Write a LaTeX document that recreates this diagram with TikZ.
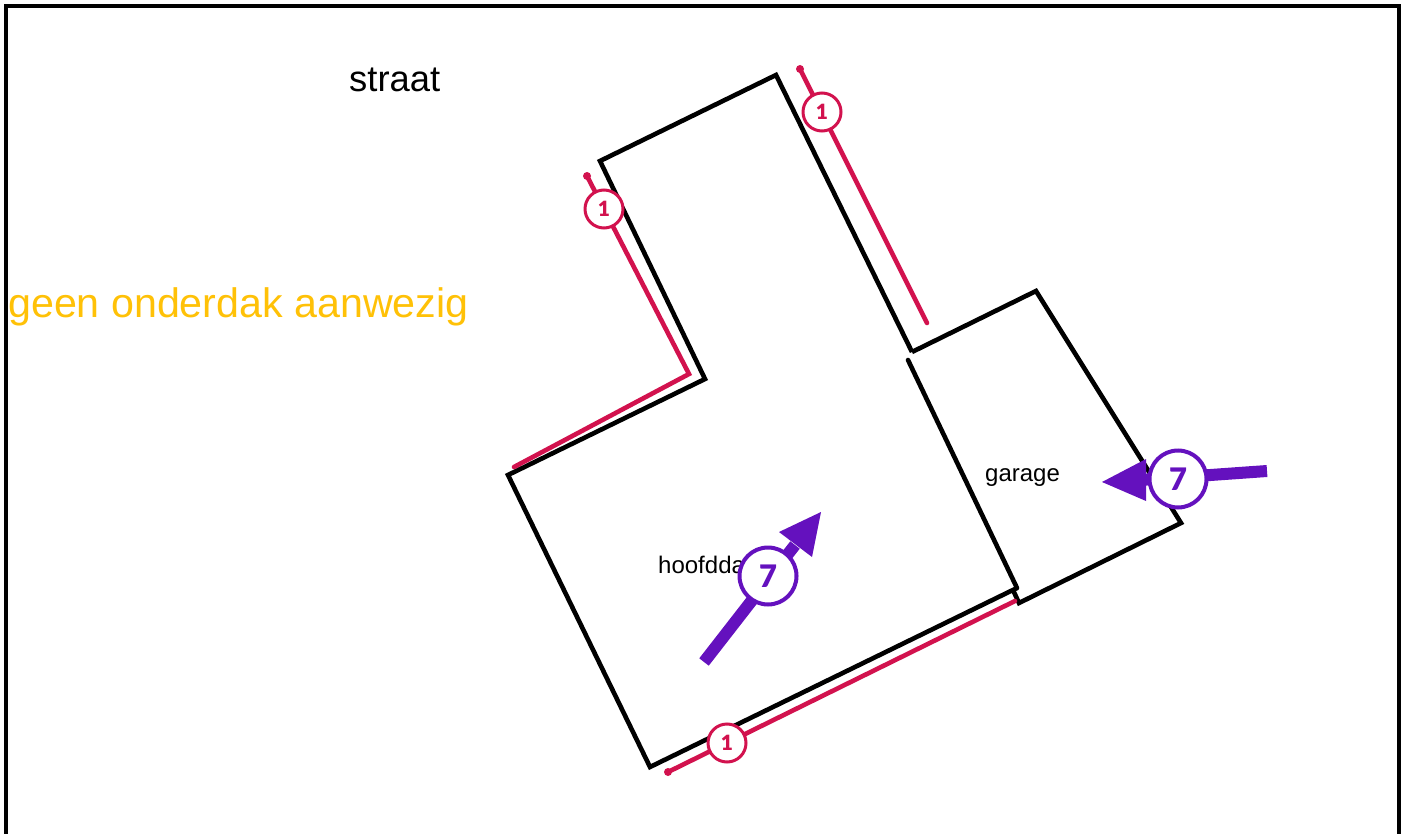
\documentclass[tikz,border=0pt]{standalone}
\usepackage{fontspec}
\setmainfont{Liberation Sans}
\newfontfamily\badgefont{Lato Black}
\usepackage{xcolor}
\usetikzlibrary{positioning, calc}
\definecolor{planPink}{RGB}{210, 18, 78}
\definecolor{planPurple}{RGB}{100, 17, 190}
\definecolor{planAmber}{RGB}{255, 193, 7}

\begin{document}
\begin{tikzpicture}[
    x=1pt, y=-1pt,
    frame/.style={draw=black, line width=3.5pt},
    wall/.style={draw=black, line width=4.6pt, line join=miter},
    gutter/.style={draw=planPink, line width=4.6pt, line cap=round, line join=miter},
    arrowline/.style={draw=planPurple, line width=12pt},
    arrowhead/.style={fill=planPurple},
    enddot/.style={circle, fill=#1, inner sep=0pt, minimum size=8pt},
    pinkbadge/.style={circle, draw=planPink, fill=white, line width=3pt, minimum size=38pt, inner sep=0pt, outer sep=0pt, text=planPink, font=\badgefont\fontsize{21}{22}\selectfont},
    purplebadge/.style={circle, draw=planPurple, fill=white, line width=4pt, minimum size=57pt, inner sep=0pt, outer sep=0pt, text=planPurple, font=\badgefont\fontsize{31}{32}\selectfont},
    label/.style={anchor=base west, inner sep=0pt, font=\fontsize{#1}{#1}\selectfont}
]
\useasboundingbox (0,0) rectangle (1405,834);

% Frame
\coordinate (fa) at (6,834);
\coordinate (fb) at (6,6);
\coordinate (fc) at (1399,6);
\coordinate (fd) at (1399,834);
\draw[frame] (fa) -- (fb) -- (fc) -- (fd);

% Texts
\node[label=36.4] (street) at (349,92) {straat};
\node[label=41.2, text=planAmber] (notice) at (8,317) {geen onderdak aanwezig};
\node[label=24] (mainroof) at (658,573) {hoofdda};
\node[label=24] (garageroof) at (985,481) {garage};

% Main roof
\coordinate (m1) at (600,161);
\coordinate (m2) at (776,75);
\coordinate (m3) at (912,352);
\coordinate (m4) at (650,767);
\coordinate (m5) at (508,475);
\coordinate (m6) at (705,379);
\coordinate (m7) at (1017,588);
\draw[wall] (m3) -- (m2) -- (m1) -- (m6) -- (m5) -- (m4) -- (m7);

% Garage
\coordinate (g1) at (1036,291);
\coordinate (g2) at (1181,523);
\coordinate (g3) at (1019,603);
\coordinate (g4) at (1013,590);
\coordinate (g5) at (908,360);
\draw[wall] (m3) -- (g1) -- (g2) -- (g3) -- (g4);
\draw[wall, line cap=round] (g5) -- (m7);

% Gutters
\node[enddot=planPink] (t1) at (800,69) {};
\coordinate (t2) at (927,323);
\draw[gutter] (t1.center) -- (t2);
\node[enddot=planPink] (l1) at (587,176) {};
\coordinate (l2) at (689,374);
\coordinate (l3) at (514,467);
\draw[gutter] (l1.center) -- (l2) -- (l3);
\node[enddot=planPink] (b1) at (668,772) {};
\coordinate (b2) at (1015,601);
\draw[gutter] (b1.center) -- (b2);

% Slope arrows
\coordinate (a1) at (704,662);
\coordinate (a2) at (795,545);
\coordinate (a3) at (821,512);
\coordinate (a4) at (779,532);
\coordinate (a5) at (812,557);
\draw[arrowline] (a1) -- (a2);
\fill[arrowhead] (a3) -- (a4) -- (a5) -- cycle;
\coordinate (c1) at (1267,471);
\coordinate (c2) at (1140,480);
\coordinate (c3) at (1102,482);
\coordinate (c4) at (1146,459);
\coordinate (c5) at (1146,501);
\draw[arrowline] (c1) -- (c2);
\fill[arrowhead] (c3) -- (c4) -- (c5) -- cycle;

% Badges
\node[pinkbadge] (badgetop) at (822,112) {1};
\node[pinkbadge] (badgeleft) at (604,209) {1};
\node[pinkbadge] (badgebottom) at (727,743) {1};
\node[purplebadge] (badgemain) at (768,576) {7};
\node[purplebadge] (badgegarage) at (1178,479) {7};

\end{tikzpicture}
\end{document}
